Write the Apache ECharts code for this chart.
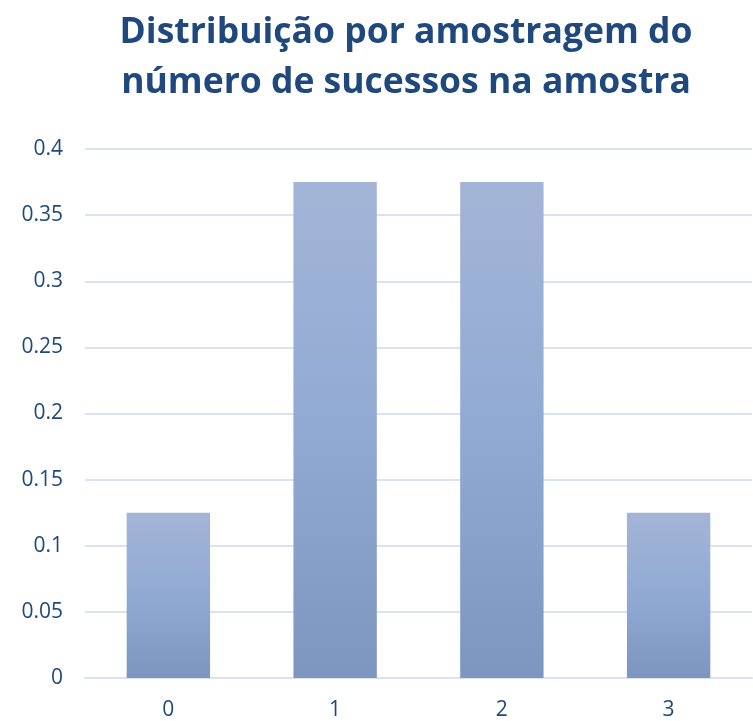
<!DOCTYPE html>
<html>
<head>
<meta charset="utf-8">
<script src="https://cdn.jsdelivr.net/npm/echarts@6/dist/echarts.min.js"></script>
<style>
  html, body { margin: 0; padding: 0; background: #fff; }
  #chart { width: 753px; height: 721px; }
</style>
</head>
<body>
<div id="chart"></div>
<script>
// data
const categories = ['0', '1', '2', '3']
const probabilities = [0.125, 0.375, 0.375, 0.125]
const titleLines = ['Distribuição por amostragem do', 'número de sucessos na amostra']

const textColor = '#1F497D'
const gridColor = '#D9E3F2'

const chart = echarts.init(document.getElementById('chart'))
chart.setOption({
  backgroundColor: '#ffffff',
  animation: false,
  title: {
    text: titleLines.join('\n'),
    left: 401,
    textAlign: 'center',
    top: 3,
    textStyle: {
      fontFamily: 'Open Sans',
      fontWeight: 'bold',
      fontSize: 35.5,
      lineHeight: 50,
      color: textColor
    }
  },
  grid: {
    left: 85,
    right: 1,
    top: 149,
    bottom: 42
  },
  xAxis: {
    type: 'category',
    data: categories,
    axisLine: { show: true, lineStyle: { color: gridColor, width: 2 } },
    axisTick: { show: false },
    axisLabel: {
      color: textColor,
      fontFamily: 'Open Sans',
      fontSize: 21,
      margin: 22
    }
  },
  yAxis: {
    type: 'value',
    min: 0,
    max: 0.4,
    interval: 0.05,
    axisLine: { show: false },
    axisTick: { show: false },
    splitLine: { lineStyle: { color: gridColor, width: 2 } },
    axisLabel: {
      color: textColor,
      fontFamily: 'Open Sans',
      fontSize: 21,
      margin: 22
    }
  },
  series: [{
    type: 'bar',
    data: probabilities,
    barWidth: '50%',
    itemStyle: {
      color: new echarts.graphic.LinearGradient(0, 0, 0, 1, [
        { offset: 0, color: '#A3B5D7' },
        { offset: 0.5, color: '#91AAD3' },
        { offset: 1, color: '#7C96BF' }
      ])
    }
  }]
})
</script>
</body>
</html>
